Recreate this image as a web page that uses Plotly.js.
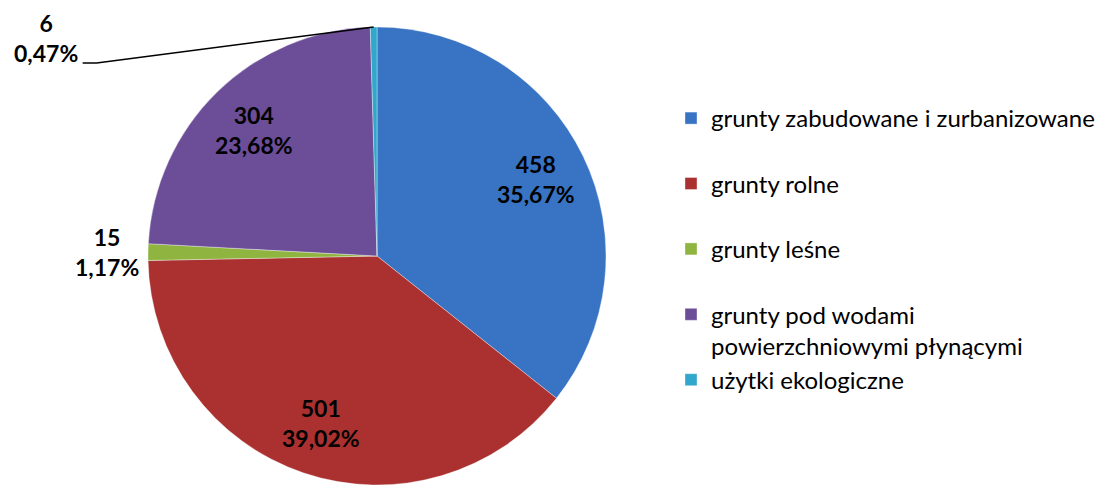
<!DOCTYPE html>
<html>
<head>
<meta charset="utf-8">
<script src="https://cdn.plot.ly/plotly-3.0.1.min.js"></script>
<style>html,body{margin:0;padding:0;background:#fff;}#chart{width:1110px;height:485px;}</style>
</head>
<body>
<div id="chart"></div>
<script>
// ---- data ----
const categories = [
  'grunty zabudowane i zurbanizowane',
  'grunty rolne',
  'grunty leśne',
  'grunty pod wodami powierzchniowymi płynącymi',
  'użytki ekologiczne'
];
const legendLabels = [
  'grunty zabudowane i zurbanizowane<br>\u00a0',
  'grunty rolne<br>\u00a0',
  'grunty leśne<br>\u00a0',
  'grunty pod wodami<br>powierzchniowymi płynącymi',
  'użytki ekologiczne<br>\u00a0'
];
const values = [458, 501, 15, 304, 6];
const colors = ['#3874C3', '#AB3130', '#8FB440', '#6C4D98', '#31A7CB'];

// ---- geometry ----
const W = 1110, H = 485;
const M = {l: 0, r: 0, t: 27, b: 0};
const dom = {x: [147 / W, 607 / W], y: [0, 1]};
const plotW = W - M.l - M.r, plotH = H - M.t - M.b;
const R = Math.min((dom.x[1] - dom.x[0]) * plotW, (dom.y[1] - dom.y[0]) * plotH) / 2;
const cxPx = M.l + (dom.x[0] + dom.x[1]) / 2 * plotW;
const cyPx = M.t + (1 - (dom.y[0] + dom.y[1]) / 2) * plotH;
const toPaper = (px, py) => [(px - M.l) / plotW, (H - M.b - py) / plotH];

const total = values.reduce((a, b) => a + b, 0);
const fmt = v => (v / total * 100).toFixed(2).replace('.', ',');
let cum = 0;
const mids = values.map(v => { const m = (cum + v / 2) / total * 2 * Math.PI; cum += v; return m; });
const pt = (ang, r) => [cxPx + r * Math.sin(ang), cyPx - r * Math.cos(ang)];

const labelFont = {family: 'Lato, sans-serif', size: 23, color: '#000'};
const annotations = [];
const shapes = [];
values.forEach((v, i) => {
  const share = v / total;
  const txt = '<b>' + v + '</b><br><b>' + fmt(v) + '%</b>';
  if (share > 0.05) {
    const [px, py] = pt(mids[i], R * 0.77);
    const [x, y] = toPaper(px, py);
    annotations.push({x, y, xref: 'paper', yref: 'paper', text: txt, showarrow: false,
      font: labelFont, xanchor: 'center', yanchor: 'middle', align: 'center'});
  } else if (share > 0.01) {
    const [px, py] = pt(mids[i], R + 7);
    const [x, y] = toPaper(px, py);
    annotations.push({x, y, xref: 'paper', yref: 'paper', text: txt, showarrow: false,
      font: labelFont, xanchor: 'right', yanchor: 'middle', align: 'center'});
  } else {
    const [ex, ey] = pt(mids[i], R);
    const bx = ex - 277, by = ey + 36;
    const tx = bx - 14, ty = by;
    const p0 = toPaper(ex, ey), p1 = toPaper(bx, by), p2 = toPaper(tx, ty);
    shapes.push({type: 'path', xref: 'paper', yref: 'paper',
      path: `M${p0[0]},${p0[1]} L${p1[0]},${p1[1]} L${p2[0]},${p2[1]}`,
      line: {color: '#000', width: 1.5}});
    const [ax, ay] = toPaper(tx - 3, ty + 6);
    annotations.push({x: ax, y: ay, xref: 'paper', yref: 'paper', text: txt, showarrow: false,
      font: labelFont, xanchor: 'right', yanchor: 'bottom', align: 'center'});
  }
});

const trace = {
  type: 'pie',
  labels: legendLabels,
  values: values,
  sort: false,
  direction: 'clockwise',
  rotation: 0,
  textinfo: 'none',
  hoverinfo: 'skip',
  marker: {colors: colors, line: {color: 'rgba(255,255,255,0.6)', width: 0.6}},
  domain: dom
};

const layout = {
  width: W, height: H,
  margin: M,
  paper_bgcolor: '#fff',
  showlegend: true,
  legend: {
    x: (671 - M.l) / plotW, xanchor: 'left',
    y: (H - M.b - 96) / plotH, yanchor: 'top',
    valign: 'top',
    font: {family: 'Lato, sans-serif', size: 24, color: '#000'},
    bgcolor: 'rgba(0,0,0,0)'
  },
  annotations: annotations,
  shapes: shapes
};

Plotly.newPlot('chart', [trace], layout, {staticPlot: true, displayModeBar: false});
</script>
</body>
</html>
